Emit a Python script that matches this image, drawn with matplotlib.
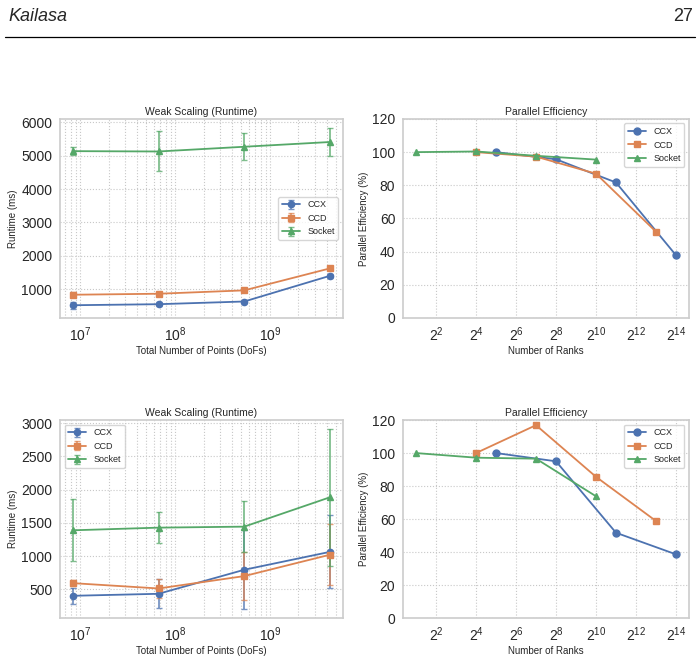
import matplotlib
matplotlib.use('Agg')
import matplotlib.pyplot as plt
import seaborn as sns
import numpy as np
from matplotlib.ticker import LogFormatterSciNotation, NullLocator, FixedLocator

sns.set_style('whitegrid')
plt.rcParams['font.family'] = ['Liberation Sans', 'DejaVu Sans']

# weak scaling data, x = total number of points
dofs = [2**23, 2**26, 2**29, 2**32]
labels = ['CCX', 'CCD', 'Socket']

# top row
top_runtime = {
    'CCX': [513, 544, 625, 1396],
    'CCD': [828, 858, 959, 1619],
    'Socket': [5138, 5128, 5270, 5412],
}
top_err = {
    'CCX': [110, 60, 50, 60],
    'CCD': [70, 50, 40, 50],
    'Socket': [130, 600, 410, 420],
}
# bottom row
bot_runtime = {
    'CCX': [405, 435, 796, 1065],
    'CCD': [595, 515, 701, 1022],
    'Socket': [1389, 1429, 1444, 1885],
}
bot_err = {
    'CCX': [120, 215, 590, 550],
    'CCD': [50, 140, 355, 460],
    'Socket': [465, 236, 385, 1025],
}

# parallel efficiency, x = number of ranks
ranks = {
    'CCX': [2**5, 2**8, 2**11, 2**14],
    'CCD': [2**4, 2**7, 2**10, 2**13],
    'Socket': [2**1, 2**4, 2**7, 2**10],
}
top_eff = {
    'CCX': [100.0, 95.7, 81.7, 37.8],
    'CCD': [100.0, 97.3, 87.0, 52.0],
    'Socket': [100.0, 100.4, 97.8, 95.5],
}
bot_eff = {
    'CCX': [100.0, 95.0, 51.7, 38.6],
    'CCD': [100.0, 116.9, 85.6, 58.8],
    'Socket': [100.0, 97.2, 96.6, 73.8],
}

colors = {'CCX': '#4C72B0', 'CCD': '#DD8452', 'Socket': '#55A868'}
markers = {'CCX': 'o', 'CCD': 's', 'Socket': '^'}

fig = plt.figure(figsize=(7, 6.61), dpi=100)

# page header
fig.text(0.012, 0.975, 'Kailasa', fontsize=13, style='italic', va='center', ha='left')
fig.text(0.99, 0.975, '27', fontsize=13, va='center', ha='right')
fig.add_artist(plt.Line2D([0.007, 0.993], [0.944, 0.944], color='black', lw=0.9))


def style_axes(ax):
    for s in ax.spines.values():
        s.set_color('#cccccc')
        s.set_linewidth(1.2)
    ax.tick_params(labelsize=10, colors='#262626', pad=2)
    ax.title.set_color('#262626')


def runtime_plot(ax, runtime, err, legend_loc):
    for name in labels:
        c = matplotlib.colors.to_rgba(colors[name])
        ax.errorbar(dofs, runtime[name], yerr=err[name], color=colors[name],
                    marker=markers[name], markersize=4.5, lw=1.3, capsize=2.5,
                    ecolor=(c[0], c[1], c[2], 0.75), elinewidth=1.3, label=name)
    ax.set_xscale('log')
    ax.grid(True, which='both', linestyle=':', color='#c8c8c8', linewidth=0.8)
    ax.set_title('Weak Scaling (Runtime)', fontsize=7.5, pad=3)
    ax.set_xlabel('Total Number of Points (DoFs)', fontsize=7, labelpad=1, color='#262626')
    ax.set_ylabel('Runtime (ms)', fontsize=7, labelpad=2, color='#262626')
    ax.legend(loc=legend_loc, fontsize=6.5, frameon=True, edgecolor='#cccccc')
    style_axes(ax)


def eff_plot(ax, eff):
    for name in labels:
        ax.plot(ranks[name], eff[name], color=colors[name], marker=markers[name],
                markersize=5, lw=1.3, label=name)
    ax.set_xscale('log', base=2)
    ax.xaxis.set_major_locator(FixedLocator([2**k for k in range(2, 15, 2)]))
    ax.xaxis.set_major_formatter(LogFormatterSciNotation(base=2))
    ax.xaxis.set_minor_locator(NullLocator())
    ax.set_ylim(0, 120)
    ax.grid(True, linestyle=':', color='#c8c8c8', linewidth=0.8)
    ax.set_title('Parallel Efficiency', fontsize=7.5, pad=3)
    ax.set_xlabel('Number of Ranks', fontsize=7, labelpad=1, color='#262626')
    ax.set_ylabel('Parallel Efficiency (%)', fontsize=7, labelpad=2, color='#262626')
    ax.legend(loc='upper right', fontsize=6.5, frameon=True, edgecolor='#cccccc')
    style_axes(ax)


ax1 = fig.add_axes([0.0857, 0.519, 0.404, 0.301])
ax2 = fig.add_axes([0.5757, 0.519, 0.4086, 0.301])
ax3 = fig.add_axes([0.0857, 0.065, 0.404, 0.2995])
ax4 = fig.add_axes([0.5757, 0.065, 0.4086, 0.2995])

runtime_plot(ax1, top_runtime, top_err, 'center right')
eff_plot(ax2, top_eff)
runtime_plot(ax3, bot_runtime, bot_err, 'upper left')
eff_plot(ax4, bot_eff)

fig.savefig('out.png', dpi=100)
